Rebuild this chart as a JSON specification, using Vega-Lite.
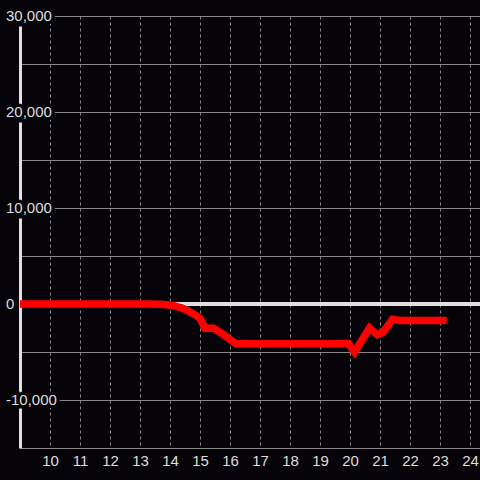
{
  "$schema": "https://vega.github.io/schema/vega-lite/v6.json",
  "width": 460,
  "height": 432,
  "autosize": {"type": "none"},
  "padding": {"left": 20, "top": 16, "right": 0, "bottom": 32},
  "background": "#060409",
  "config": {
    "view": {"stroke": null},
    "axis": {
      "labelFont": "Liberation Sans",
      "labelFontSize": 15,
      "labelColor": "#dddddd",
      "gridColor": "#888888",
      "gridOpacity": 1,
      "gridWidth": 1,
      "ticks": false,
      "tickSize": 0,
      "title": null
    },
    "axisX": {
      "domain": false,
      "grid": true,
      "gridDash": [3, 3],
      "labelPadding": 5,
      "labelFlush": false,
      "labelOverlap": false
    },
    "axisY": {
      "labels": false,
      "domain": true,
      "domainColor": "#e0e0e0",
      "domainWidth": 3,
      "grid": true
    }
  },
  "datasets": {
    "series": [
      {"x": 9, "y": 0},
      {"x": 13.4, "y": 0},
      {"x": 13.8, "y": -50},
      {"x": 14.1, "y": -150},
      {"x": 14.4, "y": -430},
      {"x": 14.6, "y": -720},
      {"x": 14.85, "y": -1150},
      {"x": 15.0, "y": -1500},
      {"x": 15.17, "y": -2520},
      {"x": 15.45, "y": -2520},
      {"x": 15.75, "y": -3100},
      {"x": 16.0, "y": -3700},
      {"x": 16.2, "y": -4150},
      {"x": 19.95, "y": -4150},
      {"x": 20.15, "y": -5000},
      {"x": 20.65, "y": -2500},
      {"x": 20.9, "y": -3200},
      {"x": 21.1, "y": -2950},
      {"x": 21.42, "y": -1600},
      {"x": 21.65, "y": -1720},
      {"x": 23.22, "y": -1720}
    ],
    "yticks": [
      {"v": 30000, "label": "30,000"},
      {"v": 20000, "label": "20,000"},
      {"v": 10000, "label": "10,000"},
      {"v": 0, "label": "0"},
      {"v": -10000, "label": "-10,000"}
    ]
  },
  "layer": [
    {
      "data": {"name": "series"},
      "mark": {"type": "rule", "color": "#e0e0e0", "strokeWidth": 3},
      "encoding": {"y": {"datum": 0, "type": "quantitative", "scale": {"domain": [-15000, 30000], "nice": false, "zero": false}, "axis": {"values": [-15000, -10000, -5000, 0, 5000, 10000, 15000, 20000, 25000, 30000]}}}
    },
    {
      "data": {"name": "series"},
      "mark": {"type": "line", "color": "#ff0000", "strokeWidth": 7.5, "strokeCap": "butt", "strokeJoin": "miter"},
      "encoding": {
        "x": {
          "field": "x",
          "type": "quantitative",
          "scale": {"domain": [9, 24.3333], "nice": false, "zero": false},
          "axis": {"values": [10, 11, 12, 13, 14, 15, 16, 17, 18, 19, 20, 21, 22, 23, 24]}
        },
        "y": {
          "field": "y",
          "type": "quantitative",
          "scale": {"domain": [-15000, 30000], "nice": false, "zero": false},
          "axis": {"values": [-15000, -10000, -5000, 0, 5000, 10000, 15000, 20000, 25000, 30000]}
        }
      }
    },
    {
      "data": {"name": "yticks"},
      "mark": {"type": "text", "align": "left", "baseline": "middle", "dx": -14, "font": "Liberation Sans", "fontSize": 15, "fill": "#060409", "stroke": "#060409", "strokeWidth": 7},
      "encoding": {
        "x": {"datum": 9, "type": "quantitative", "axis": {"values": [10, 11, 12, 13, 14, 15, 16, 17, 18, 19, 20, 21, 22, 23, 24]}},
        "y": {"field": "v", "type": "quantitative", "axis": {"values": [-15000, -10000, -5000, 0, 5000, 10000, 15000, 20000, 25000, 30000]}},
        "text": {"field": "label"}
      }
    },
    {
      "data": {"name": "yticks"},
      "mark": {"type": "text", "align": "left", "baseline": "middle", "dx": -14, "font": "Liberation Sans", "fontSize": 15, "fill": "#dddddd"},
      "encoding": {
        "x": {"datum": 9, "type": "quantitative", "axis": {"values": [10, 11, 12, 13, 14, 15, 16, 17, 18, 19, 20, 21, 22, 23, 24]}},
        "y": {"field": "v", "type": "quantitative", "axis": {"values": [-15000, -10000, -5000, 0, 5000, 10000, 15000, 20000, 25000, 30000]}},
        "text": {"field": "label"}
      }
    }
  ]
}
